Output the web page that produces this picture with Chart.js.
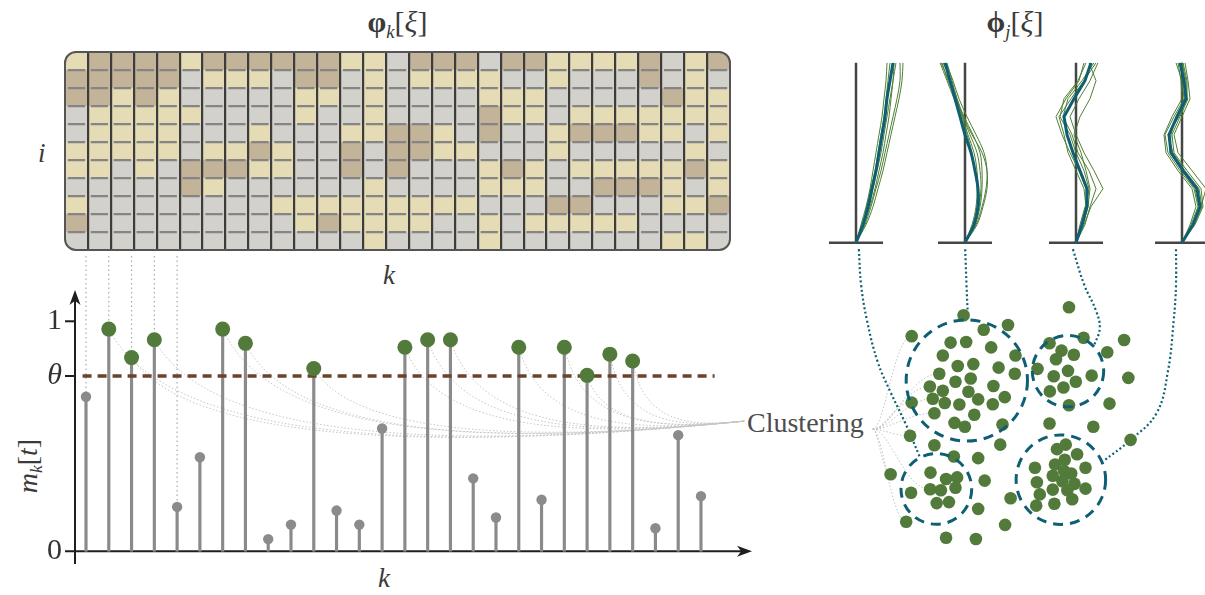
<!DOCTYPE html>
<html>
<head>
<meta charset="utf-8">
<script src="https://cdn.jsdelivr.net/npm/chart.js@4.4.1/dist/chart.umd.min.js"></script>
<style>
html, body { margin: 0; padding: 0; background: #fff; overflow: hidden; }
#page { position: relative; width: 1205px; height: 595px; font-family: "Liberation Serif", "DejaVu Serif", serif; color: #3a3a3a; }
canvas { position: absolute; }
.lbl { position: absolute; white-space: nowrap; line-height: 1; }
sub { font-size: 62%; vertical-align: -0.3em; }
</style>
</head>
<body>
<div id="page">
  <div class="lbl" style="left:320px;top:7px;width:155px;text-align:center;font-size:30px;"><b>φ</b><sub><i>k</i></sub>[<i>ξ</i>]</div>
  <div class="lbl" style="left:940px;top:7px;width:150px;text-align:center;font-size:30px;"><b>ϕ</b><sub><i>j</i></sub>[<i>ξ</i>]</div>
  <div class="lbl" style="left:38px;top:140px;font-size:27px;font-style:italic;">i</div>
  <div class="lbl" style="left:383px;top:262px;font-size:27px;font-style:italic;">k</div>
  <div class="lbl" style="left:378px;top:565px;font-size:27px;font-style:italic;">k</div>
  <div class="lbl" style="left:30px;top:466px;font-size:28px;transform:translate(-50%,-50%) rotate(-90deg);"><i>m</i><sub><i>k</i></sub>[<i>t</i>]</div>
  <div class="lbl" style="left:747px;top:409px;font-size:28px;color:#4d4d4d;">Clustering</div>

  <canvas id="heat" width="690" height="218" style="left:55px;top:42px;"></canvas>
  <canvas id="stem" width="760" height="345" style="left:0px;top:250px;"></canvas>
  <canvas id="clus" width="465" height="340" style="left:740px;top:240px;"></canvas>
  <canvas id="p0" width="110" height="200" style="left:806px;top:50px;"></canvas>
  <canvas id="p1" width="110" height="200" style="left:915px;top:50px;"></canvas>
  <canvas id="p2" width="110" height="200" style="left:1026px;top:50px;"></canvas>
  <canvas id="p3" width="110" height="200" style="left:1132px;top:50px;"></canvas>
</div>

<script>
// ===============================
// DATOS
// ===============================

// heatmap phi_k[xi]: one string per row i (top to bottom), one letter per column k
// G = gris, Y = amarillo, T = marron claro
const heatRows = [
    "YTTTTYTTTTTTYYGTTTGTTYYYYTGYT",
    "TTTTTGYYYGTTGYGYYYYGGYGGGTGYG",
    "TTYTYGGGGGYYGYGGGGYYYGGGGGTYY",
    "GYYYYYGGGGYGGYGGGGTYYGYYYYYYY",
    "GYYYYGGGYGGGYYTTYGTGGYTTTYYGY",
    "YYYYYGYYTYGGTGTTYYGGGYGGGGGYG",
    "YYGYGTTTYYGGTGTGGGYTYGYYYYYTY",
    "GGGGGTYGGGGGGYGGGGYYYGGTTTYGY",
    "YGGGGGGGGYYYYYYYYYGGGTTGGGYYT",
    "TGGGGGGGGGYTYYYYGGYGYYYYYGGGG",
    "GGGGGGGGGGGGGYGGGGYGGGGGGGYYG"
];
const cellColor = { G: "#d3d1cb", Y: "#e5dcb5", T: "#c3b398" };

// stems m_k[t]
const kIdx = [1, 2, 3, 4, 5, 6, 7, 8, 9, 10, 11, 12, 13, 14, 15, 16, 17, 18, 19, 20, 21, 22, 23, 24, 25, 26, 27, 28];
const mVals = [0.672, 0.966, 0.842, 0.920, 0.193, 0.409, 0.966, 0.904, 0.053, 0.116,
               0.795, 0.177, 0.116, 0.534, 0.887, 0.920, 0.920, 0.317, 0.147, 0.887,
               0.224, 0.887, 0.765, 0.857, 0.827, 0.100, 0.505, 0.240];
const theta = 0.762;
const yTickVals = [0, theta, 1];
const thetaSpan = [0.85, 28.6];
const clusterAnchor = { x: 29.9, y: 0.566 };
const linkedStems = [1, 2, 3, 4, 5];

// perfiles phi_j[xi] (xi de abajo a arriba)
const xiLevels = [0, 0.1, 0.2, 0.3, 0.4, 0.5, 0.6, 0.7, 0.8, 0.9, 1.0];
const panelTeal = [
    [0, 7, 12, 16, 20, 23, 26, 29, 31, 34, 37],
    [0, 9, 13, 13, 10, 6, 0, -5, -10, -15, -20],
    [0, 6, 11, 11, 4, -3, -9, -12, -2, 9, 15],
    [0, 11, 18, 15, 1, -11, -13, -5, 4, 2, -2]
];
const panelGreen = [
    [
        [0, 5, 10, 14, 17, 20, 23, 26, 28, 30, 31],
        [0, 6, 11, 15, 19, 22, 25, 28, 30, 32, 34],
        [0, 8, 14, 19, 23, 27, 30, 33, 35, 37, 38],
        [0, 9, 15, 20, 25, 29, 33, 37, 41, 44, 44],
        [0, 10, 17, 22, 27, 31, 35, 39, 43, 46, 47],
        [0, 7, 13, 17, 21, 25, 28, 31, 34, 37, 40]
    ],
    [
        [0, 8, 12, 13, 12, 9, 3, -3, -9, -16, -24],
        [0, 10, 15, 17, 17, 15, 8, -1, -8, -14, -22],
        [0, 11, 17, 21, 22, 19, 11, 2, -6, -12, -19],
        [0, 12, 18, 22, 22, 17, 7, -2, -9, -17, -23],
        [0, 7, 11, 12, 10, 7, 2, -4, -11, -18, -25],
        [0, 10, 14, 16, 15, 12, 5, -2, -8, -13, -18]
    ],
    [
        [0, 5, 10, 13, 8, 0, -6, -16, -12, 2, 10],
        [0, 8, 15, 27, 18, 8, 0, -6, 3, 14, 22],
        [0, 7, 12, 14, 10, 5, -2, 4, 14, 20, 13],
        [0, 4, 9, 10, 3, -6, -14, -20, -10, 3, 8],
        [0, 9, 14, 20, 13, 2, -4, -13, -8, 6, 18],
        [0, 6, 10, 8, 0, -8, -12, -17, -5, 8, 20]
    ],
    [
        [0, 9, 16, 12, -2, -14, -17, -8, 2, 0, -6],
        [0, 13, 21, 19, 5, -8, -10, -2, 6, 5, 1],
        [0, 10, 19, 24, 10, -4, -8, 0, 8, 6, 3],
        [0, 8, 14, 10, -4, -16, -18, -10, 0, -1, -4],
        [0, 12, 20, 17, 3, -9, -14, -3, 5, 4, 0],
        [0, 11, 17, 13, 0, -12, -11, -6, 3, 3, -1]
    ]
];
const panelTension = [0.35, 0.35, 0, 0];
const baseHalf = 27;

// clustering (espacio de rasgos, y hacia abajo)
const clusterPts = [
    [670, 95], [807, 125], [995, 70], [510, 160], [732, 140], [630, 180], [678, 178], [755, 195],
    [606, 220], [830, 220], [935, 182], [1040, 165], [972, 205], [1010, 218], [1165, 172], [1113, 210],
    [652, 253], [700, 247], [778, 258], [595, 277], [828, 277], [955, 232], [898, 262], [992, 268],
    [1065, 283], [1178, 290], [948, 285], [645, 302], [692, 292], [566, 317], [606, 330], [762, 315],
    [1016, 302], [978, 320], [936, 332], [685, 333], [575, 355], [612, 368], [657, 373], [715, 357],
    [797, 350], [760, 372], [510, 367], [995, 375], [1120, 370], [580, 400], [703, 405], [642, 430],
    [674, 442], [790, 435], [935, 432], [1070, 442], [505, 470], [580, 500], [783, 498], [640, 535],
    [715, 540], [1185, 483], [985, 498], [958, 512], [1020, 528], [568, 585], [616, 605], [650, 600],
    [445, 590], [735, 610], [567, 637], [600, 640], [645, 632], [508, 648], [587, 680], [625, 677],
    [715, 698], [815, 665], [493, 738], [798, 748], [616, 788], [708, 792],
    [982, 545], [952, 560], [890, 570], [1046, 570], [980, 580], [1002, 588], [945, 595], [896, 615],
    [975, 612], [1012, 620], [945, 638], [990, 640], [1046, 635], [905, 653], [1005, 668], [894, 688],
    [950, 682]
];
const circleCx = [680, 992, 586, 970];
const circleCy = [298, 269, 636, 607];
const circleR = [187, 110, 109, 138];
const fanOrigin = [390, 450];
const fanTargets = [3, 19, 29, 36, 42, 45, 52, 64, 66, 74];
const connectors = [
    [[347, -111], [354, 0], [372, 110], [405, 240], [445, 335], [490, 430], [534, 534]],
    [[675, -111], [679, 0], [683, 95]],
    [[1007, -111], [1042, 0], [1078, 80], [1090, 135], [1072, 190]],
    [[1325, -111], [1325, 0], [1318, 110], [1300, 270], [1265, 400], [1185, 483], [1100, 550]]
];

const GREEN = "#527b3b";
const TEAL = "#0e5f74";
const SERIF = "'Liberation Serif', 'DejaVu Serif', serif";

Chart.defaults.animation = false;
Chart.defaults.responsive = false;
Chart.defaults.plugins.legend.display = false;
Chart.defaults.plugins.tooltip.enabled = false;

function roundRectPath(ctx, x, y, w, h, r) {
    ctx.beginPath();
    ctx.moveTo(x + r, y);
    ctx.lineTo(x + w - r, y);
    ctx.arcTo(x + w, y, x + w, y + r, r);
    ctx.lineTo(x + w, y + h - r);
    ctx.arcTo(x + w, y + h, x + w - r, y + h, r);
    ctx.lineTo(x + r, y + h);
    ctx.arcTo(x, y + h, x, y + h - r, r);
    ctx.lineTo(x, y + r);
    ctx.arcTo(x, y, x + r, y, r);
    ctx.closePath();
}

// ===============================
// HEATMAP
// ===============================
const heatLabels = heatRows[0].split("").map((c, i) => String(i + 1));
const colW = 665 / heatLabels.length;

const heatFrame = {
    id: "heatFrame",
    beforeDatasetsDraw(chart) {
        const a = chart.chartArea, ctx = chart.ctx;
        ctx.save();
        roundRectPath(ctx, a.left, a.top, a.right - a.left, a.bottom - a.top, 11);
        ctx.clip();
    },
    afterDatasetsDraw(chart) {
        chart.ctx.restore();
    },
    afterDraw(chart) {
        const a = chart.chartArea, ctx = chart.ctx;
        ctx.save();
        ctx.strokeStyle = "#555";
        ctx.lineWidth = 2;
        roundRectPath(ctx, a.left, a.top, a.right - a.left, a.bottom - a.top, 11);
        ctx.stroke();
        ctx.restore();
    }
};

new Chart(document.getElementById("heat"), {
    type: "bar",
    data: {
        labels: heatLabels,
        datasets: heatRows.slice().reverse().map(row => ({
            data: row.split("").map(() => 1),
            backgroundColor: row.split("").map(c => cellColor[c]),
            borderWidth: 0,
            barPercentage: 1,
            categoryPercentage: 1
        }))
    },
    options: {
        layout: { padding: { left: 10, right: 15, top: 10, bottom: 10 } },
        scales: {
            x: {
                stacked: true,
                ticks: { display: false },
                border: { display: false },
                grid: {
                    z: 2,
                    offset: true,
                    drawTicks: false,
                    lineWidth: 2.2,
                    color: c => (c.index === undefined || c.index === 0 || c.index >= heatLabels.length) ? "rgba(0,0,0,0)" : "#3c3c3c"
                },
                afterFit: s => { s.height = 0; }
            },
            y: {
                stacked: true,
                min: 0,
                max: heatRows.length,
                ticks: { display: false, stepSize: 1 },
                border: { display: false, dash: [colW - 5.6, 5.6], dashOffset: colW - 2.8 },
                grid: {
                    z: 1,
                    drawTicks: false,
                    lineWidth: 2.2,
                    color: c => (c.index === undefined || c.index === 0 || c.index >= heatRows.length) ? "rgba(0,0,0,0)" : "#858585"
                },
                afterFit: s => { s.width = 0; }
            }
        }
    },
    plugins: [heatFrame]
});

// ===============================
// STEM PLOT m_k[t]
// ===============================
function arrowHead(ctx, x, y, dx, dy) {
    const L = 15, W = 5.5, px = -dy, py = dx;
    ctx.beginPath();
    ctx.moveTo(x, y);
    ctx.lineTo(x - dx * L + px * W, y - dy * L + py * W);
    ctx.lineTo(x - dx * L * 0.72, y - dy * L * 0.72);
    ctx.lineTo(x - dx * L - px * W, y - dy * L - py * W);
    ctx.closePath();
    ctx.fill();
}

const stemDeco = {
    id: "stemDeco",
    beforeDatasetsDraw(chart) {
        const { ctx, chartArea: a } = chart;
        const x = chart.scales.x, y = chart.scales.y;
        ctx.save();

        // guias punteadas hacia el heatmap
        ctx.strokeStyle = "#a9a9a9";
        ctx.lineWidth = 1.2;
        ctx.setLineDash([1.5, 3]);
        linkedStems.forEach(k => {
            const px = x.getPixelForValue(k);
            ctx.beginPath();
            ctx.moveTo(px, 6);
            ctx.lineTo(px, y.getPixelForValue(mVals[k - 1]));
            ctx.stroke();
        });

        // abanico hacia "Clustering"
        const ex = x.getPixelForValue(clusterAnchor.x), ey = y.getPixelForValue(clusterAnchor.y);
        ctx.strokeStyle = "#c6c6c6";
        ctx.lineWidth = 1;
        ctx.setLineDash([1.5, 2]);
        kIdx.forEach((k, i) => {
            if (mVals[i] <= theta) return;
            const sx = x.getPixelForValue(k), sy = y.getPixelForValue(mVals[i]);
            const dip = ey + 30 * (ex - sx) / 660;
            ctx.beginPath();
            ctx.moveTo(sx, sy);
            ctx.bezierCurveTo(sx + 0.1 * (ex - sx), dip, sx + 0.55 * (ex - sx), dip, ex, ey);
            ctx.stroke();
        });

        // ejes con flecha
        ctx.setLineDash([]);
        ctx.strokeStyle = ctx.fillStyle = "#1e1e1e";
        ctx.lineWidth = 2;
        const y0 = y.getPixelForValue(0);
        ctx.beginPath();
        ctx.moveTo(a.left - 10, y0);
        ctx.lineTo(a.right - 8, y0);
        ctx.stroke();
        arrowHead(ctx, a.right, y0, 1, 0);
        ctx.beginPath();
        ctx.moveTo(a.left, a.bottom);
        ctx.lineTo(a.left, a.top + 8);
        ctx.stroke();
        arrowHead(ctx, a.left, a.top, 0, -1);
        [theta, 1].forEach(v => {
            const py = y.getPixelForValue(v);
            ctx.beginPath();
            ctx.moveTo(a.left - 10, py);
            ctx.lineTo(a.left, py);
            ctx.stroke();
        });
        ctx.restore();
    }
};

const stemPts = kIdx.map((k, i) => ({ x: k, y: mVals[i] }));

new Chart(document.getElementById("stem"), {
    type: "bar",
    data: {
        datasets: [
            {
                type: "scatter",
                data: stemPts.filter(p => p.y > theta),
                pointRadius: 7.5,
                backgroundColor: GREEN,
                borderWidth: 0,
                order: 0
            },
            {
                type: "scatter",
                data: stemPts.filter(p => p.y <= theta),
                pointRadius: 5.2,
                backgroundColor: "#8b8b8e",
                borderWidth: 0,
                order: 0
            },
            {
                type: "line",
                data: thetaSpan.map(k => ({ x: k, y: theta })),
                borderColor: "#6a4328",
                borderWidth: 3.5,
                borderDash: [9, 6],
                pointRadius: 0,
                order: 1
            },
            {
                type: "bar",
                data: stemPts,
                backgroundColor: "#8a8a8a",
                barThickness: 2.5,
                order: 2
            }
        ]
    },
    options: {
        layout: { padding: { left: 0, right: 8, top: 40, bottom: 25 } },
        scales: {
            x: { type: "linear", min: 0.517, max: 30.24, offset: false, display: false },
            y: {
                min: -0.0553,
                max: 1.136,
                afterBuildTicks: s => { s.ticks = yTickVals.map(v => ({ value: v })); },
                afterFit: s => { s.width = 75; },
                grid: { display: false, drawTicks: false },
                border: { display: false },
                ticks: {
                    padding: 13,
                    color: "#333",
                    callback: v => (v === theta ? "θ" : String(v)),
                    font: c => ({ family: SERIF, size: 30, style: (c.tick && c.tick.value === theta) ? "italic" : "normal" })
                }
            }
        }
    },
    plugins: [stemDeco]
});

// ===============================
// PERFILES phi_j[xi]
// ===============================
const panelAxes = {
    id: "panelAxes",
    beforeDatasetsDraw(chart) {
        const { ctx, chartArea: a } = chart;
        const x = chart.scales.x, y = chart.scales.y;
        ctx.save();
        ctx.strokeStyle = "#454545";
        ctx.lineWidth = 2.5;
        const x0 = x.getPixelForValue(0), y0 = y.getPixelForValue(0);
        ctx.beginPath();
        ctx.moveTo(x0, a.top);
        ctx.lineTo(x0, y0);
        ctx.moveTo(x.getPixelForValue(-baseHalf), y0);
        ctx.lineTo(x.getPixelForValue(baseHalf), y0);
        ctx.stroke();
        ctx.restore();
    }
};

panelTeal.forEach((teal, p) => {
    const toPts = arr => arr.map((v, i) => ({ x: v, y: xiLevels[i] }));
    const datasets = panelGreen[p].map(g => ({
        data: toPts(g),
        borderColor: "#4e7f36",
        borderWidth: 1,
        pointRadius: 0,
        tension: panelTension[p],
        order: 1
    }));
    datasets.push({
        data: toPts(teal),
        borderColor: TEAL,
        borderWidth: 3,
        pointRadius: 0,
        tension: panelTension[p],
        order: 0
    });
    new Chart(document.getElementById("p" + p), {
        type: "line",
        data: { datasets },
        options: {
            layout: { padding: { left: 0, right: 0, top: 12.7, bottom: 7.3 } },
            scales: {
                x: { type: "linear", min: -50, max: 60, display: false },
                y: { type: "linear", min: 0, max: 1, display: false }
            }
        },
        plugins: [panelAxes]
    });
});

// ===============================
// CLUSTERING
// ===============================
const clusterDeco = {
    id: "clusterDeco",
    beforeDatasetsDraw(chart) {
        const ctx = chart.ctx, x = chart.scales.x, y = chart.scales.y;
        const ax = x.getPixelForValue(fanOrigin[0]), ay = y.getPixelForValue(fanOrigin[1]);
        ctx.save();
        ctx.strokeStyle = "#c2c2c2";
        ctx.lineWidth = 1;
        ctx.setLineDash([1.5, 2]);
        fanTargets.forEach(i => {
            const bx = x.getPixelForValue(clusterPts[i][0]), by = y.getPixelForValue(clusterPts[i][1]);
            const dx = bx - ax;
            ctx.beginPath();
            ctx.moveTo(ax, ay);
            ctx.bezierCurveTo(ax + 0.3 * dx, ay, ax + 0.55 * dx, by, bx, by);
            ctx.stroke();
        });
        ctx.restore();
    },
    afterDatasetsDraw(chart) {
        const ctx = chart.ctx, x = chart.scales.x, y = chart.scales.y;
        ctx.save();
        ctx.strokeStyle = TEAL;
        ctx.lineWidth = 3;
        ctx.setLineDash([10, 7]);
        circleCx.forEach((cx, i) => {
            const px = x.getPixelForValue(cx), py = y.getPixelForValue(circleCy[i]);
            const r = x.getPixelForValue(cx + circleR[i]) - px;
            ctx.beginPath();
            ctx.arc(px, py, r, 0, Math.PI * 2);
            ctx.stroke();
        });
        ctx.restore();
    }
};

const clusterSets = [{
    type: "scatter",
    data: clusterPts.map(p => ({ x: p[0], y: p[1] })),
    pointRadius: 6.3,
    backgroundColor: GREEN,
    borderWidth: 0,
    order: 0
}];
connectors.forEach(c => clusterSets.push({
    type: "line",
    data: c.map(p => ({ x: p[0], y: p[1] })),
    borderColor: TEAL,
    borderWidth: 2.2,
    borderDash: [2, 2.5],
    pointRadius: 0,
    tension: 0.4,
    order: 1
}));

new Chart(document.getElementById("clus"), {
    type: "scatter",
    data: { datasets: clusterSets },
    options: {
        layout: { padding: 0 },
        scales: {
            x: { type: "linear", min: 0, max: 1395, display: false },
            y: { type: "linear", min: -120, max: 900, reverse: true, display: false }
        }
    },
    plugins: [clusterDeco]
});
</script>
</body>
</html>
